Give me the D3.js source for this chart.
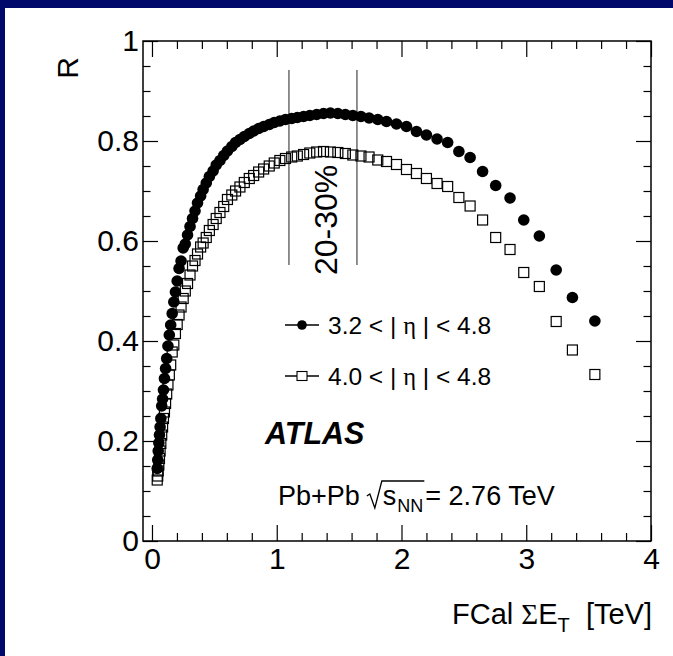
<!DOCTYPE html>
<html>
<head>
<meta charset="utf-8">
<script src="https://cdn.jsdelivr.net/npm/d3@7"></script>
<style>
  html, body { margin: 0; padding: 0; background: #fff; }
  svg { display: block; }
  text { font-family: "Liberation Sans", Arial, Helvetica, sans-serif; fill: #000; }
</style>
</head>
<body>
<svg id="chart" width="673" height="656"></svg>
<script>
// Mean FCal ΣE_T (TeV) of each 1% centrality bin, from 0-1% to 79-80%
const fcalEt = [
  3.55, 3.37, 3.24, 3.105, 2.98, 2.87, 2.755, 2.65, 2.55, 2.46,
  2.37, 2.285, 2.20, 2.12, 2.04, 1.96, 1.88, 1.81, 1.74, 1.675,
  1.61, 1.55, 1.49, 1.43, 1.375, 1.32, 1.265, 1.215, 1.165, 1.12,
  1.07, 1.025, 0.98, 0.94, 0.895, 0.855, 0.815, 0.78, 0.74, 0.705,
  0.67, 0.64, 0.605, 0.575, 0.545, 0.515, 0.49, 0.46, 0.435, 0.41,
  0.39, 0.365, 0.345, 0.325, 0.305, 0.285, 0.267, 0.25, 0.233, 0.217,
  0.202, 0.188, 0.175, 0.162, 0.15, 0.139, 0.128, 0.118, 0.109, 0.10,
  0.092, 0.085, 0.078, 0.071, 0.065, 0.06, 0.055, 0.05, 0.046, 0.042
];

// Resolution factor R for 3.2 < |η| < 4.8
const rWide = [
  0.440, 0.487, 0.542, 0.610, 0.642, 0.686, 0.711, 0.739, 0.767, 0.779,
  0.797, 0.804, 0.812, 0.819, 0.829, 0.834, 0.839, 0.843, 0.846, 0.849,
  0.851, 0.853, 0.855, 0.856, 0.855, 0.853, 0.851, 0.849, 0.847, 0.845,
  0.843, 0.840, 0.837, 0.833, 0.829, 0.825, 0.820, 0.815, 0.809, 0.803,
  0.797, 0.789, 0.780, 0.771, 0.761, 0.752, 0.740, 0.729, 0.716, 0.703,
  0.690, 0.676, 0.660, 0.645, 0.629, 0.612, 0.594, 0.586, 0.560, 0.545,
  0.520, 0.498, 0.478, 0.455, 0.432, 0.412, 0.390, 0.365, 0.345, 0.325,
  0.302, 0.284, 0.270, 0.245, 0.228, 0.212, 0.196, 0.180, 0.162, 0.145
];

// Resolution factor R for 4.0 < |η| < 4.8
const rNarrow = [
  0.333, 0.382, 0.439, 0.509, 0.537, 0.583, 0.607, 0.642, 0.670, 0.687,
  0.709, 0.715, 0.725, 0.735, 0.743, 0.753, 0.759, 0.762, 0.768, 0.770,
  0.772, 0.775, 0.777, 0.778, 0.779, 0.778, 0.776, 0.773, 0.770, 0.768,
  0.765, 0.761, 0.756, 0.750, 0.744, 0.738, 0.731, 0.725, 0.717, 0.708,
  0.700, 0.692, 0.683, 0.669, 0.657, 0.645, 0.633, 0.621, 0.607, 0.596,
  0.588, 0.574, 0.561, 0.550, 0.532, 0.515, 0.500, 0.485, 0.468, 0.452,
  0.433, 0.415, 0.392, 0.378, 0.352, 0.332, 0.312, 0.294, 0.275, 0.258,
  0.245, 0.228, 0.212, 0.195, 0.180, 0.165, 0.152, 0.140, 0.130, 0.122
];

const xMajorTicks = [0, 1, 2, 3, 4];
const xTickLabels = ["0", "1", "2", "3", "4"];
const yMajorTicks = [0, 0.2, 0.4, 0.6, 0.8, 1];
const yTickLabels = ["0", "0.2", "0.4", "0.6", "0.8", "1"];

// 30% and 20% centrality boundaries in FCal ΣE_T, and the span of the marker lines in R
const bandEdges = [1.098, 1.643];
const bandSpan = [0.552, 0.942];
const bandLabel = "20-30%";

const legendLabels = ["3.2 < | η | < 4.8", "4.0 < | η | < 4.8"];

const W = 673, H = 656;
const frame = { left: 143, right: 651, top: 41, bottom: 541 };
const navy = "#01096b";

const svg = d3.select("#chart");

// page background with the navy edge along the top and left
svg.append("rect").attr("width", W).attr("height", H).attr("fill", "#fff");
svg.append("rect").attr("x", 0).attr("y", 0).attr("width", W).attr("height", 8).attr("fill", navy);
svg.append("rect").attr("x", 0).attr("y", 0).attr("width", 5).attr("height", H).attr("fill", navy);

const x = d3.scaleLinear().domain([-0.072, 4]).range([frame.left, frame.right]);
const y = d3.scaleLinear().domain([0, 1]).range([frame.bottom, frame.top]);

const xMinor = d3.range(0, 4.0001, 0.2).filter(v => !xMajorTicks.some(t => Math.abs(t - v) < 1e-6));
const yMinor = d3.range(0, 1.0001, 0.05).filter(v => !yMajorTicks.some(t => Math.abs(t - v) < 1e-6));

function styleAxis(g) {
  g.select(".domain").remove();
  g.selectAll(".tick line").attr("stroke", "#000").attr("stroke-width", 1.2);
}

// ticks on all four sides, pointing into the frame
svg.append("g").attr("transform", `translate(0,${frame.bottom})`)
  .call(d3.axisBottom(x).tickValues(xMajorTicks).tickSize(-16).tickPadding(7)
        .tickFormat((d, i) => xTickLabels[i]))
  .call(styleAxis)
  .call(g => g.selectAll("text").attr("font-size", 30).attr("font-family", "Liberation Sans, Arial, sans-serif"));
svg.append("g").attr("transform", `translate(0,${frame.bottom})`)
  .call(d3.axisBottom(x).tickValues(xMinor).tickSize(-8).tickFormat(""))
  .call(styleAxis);
svg.append("g").attr("transform", `translate(0,${frame.top})`)
  .call(d3.axisTop(x).tickValues(xMajorTicks).tickSize(-16).tickFormat(""))
  .call(styleAxis);
svg.append("g").attr("transform", `translate(0,${frame.top})`)
  .call(d3.axisTop(x).tickValues(xMinor).tickSize(-8).tickFormat(""))
  .call(styleAxis);

svg.append("g").attr("transform", `translate(${frame.left},0)`)
  .call(d3.axisLeft(y).tickValues(yMajorTicks).tickSize(-15).tickPadding(4)
        .tickFormat((d, i) => yTickLabels[i]))
  .call(styleAxis)
  .call(g => g.selectAll("text").attr("font-size", 30).attr("font-family", "Liberation Sans, Arial, sans-serif"));
svg.append("g").attr("transform", `translate(${frame.left},0)`)
  .call(d3.axisLeft(y).tickValues(yMinor).tickSize(-7.5).tickFormat(""))
  .call(styleAxis);
svg.append("g").attr("transform", `translate(${frame.right},0)`)
  .call(d3.axisRight(y).tickValues(yMajorTicks).tickSize(-15).tickFormat(""))
  .call(styleAxis);
svg.append("g").attr("transform", `translate(${frame.right},0)`)
  .call(d3.axisRight(y).tickValues(yMinor).tickSize(-7.5).tickFormat(""))
  .call(styleAxis);

// frame
svg.append("rect")
  .attr("x", frame.left).attr("y", frame.top)
  .attr("width", frame.right - frame.left).attr("height", frame.bottom - frame.top)
  .attr("fill", "none").attr("stroke", "#000").attr("stroke-width", 1.5);

// axis titles
svg.append("text")
  .attr("transform", `translate(78,57) rotate(-90)`)
  .attr("text-anchor", "end").attr("font-size", 30)
  .text("R");

const xTitle = svg.append("text")
  .attr("x", frame.right + 1).attr("y", 624)
  .attr("text-anchor", "end").attr("font-size", 29);
xTitle.append("tspan").text("FCal ");
xTitle.append("tspan").attr("font-family", "Liberation Serif, serif").text("Σ");
xTitle.append("tspan").text("E");
xTitle.append("tspan").attr("font-size", 20).attr("dy", 8).text("T");
xTitle.append("tspan").attr("dy", -8).attr("xml:space", "preserve").text("\u00a0\u00a0[TeV]");

// 20-30% centrality boundaries
svg.append("g").selectAll("line")
  .data(bandEdges).join("line")
  .attr("x1", d => x(d)).attr("x2", d => x(d))
  .attr("y1", y(bandSpan[1])).attr("y2", y(bandSpan[0]))
  .attr("stroke", "#222").attr("stroke-width", 1);

svg.append("text")
  .attr("transform", `translate(${(x(bandEdges[0]) + x(bandEdges[1])) / 2 + 14},${y(bandSpan[0]) + 10}) rotate(-90)`)
  .attr("text-anchor", "start").attr("font-size", 32)
  .text(bandLabel);

// open squares: 4.0 < |η| < 4.8
const sq = 10;
svg.append("g").selectAll("rect")
  .data(fcalEt.map((e, i) => [e, rNarrow[i]])).join("rect")
  .attr("x", d => x(d[0]) - sq / 2).attr("y", d => y(d[1]) - sq / 2)
  .attr("width", sq).attr("height", sq)
  .attr("fill", "none").attr("stroke", "#000").attr("stroke-width", 1.2);

// filled circles: 3.2 < |η| < 4.8
svg.append("g").selectAll("circle")
  .data(fcalEt.map((e, i) => [e, rWide[i]])).join("circle")
  .attr("cx", d => x(d[0])).attr("cy", d => y(d[1]))
  .attr("r", 5.8).attr("fill", "#000");

// legend
const legendX = 285, legendRows = [325, 376];
const legend = svg.append("g");
legendRows.forEach((ly, i) => {
  legend.append("line").attr("x1", legendX).attr("x2", legendX + 34)
    .attr("y1", ly).attr("y2", ly).attr("stroke", "#000").attr("stroke-width", 1.3);
  if (i === 0) {
    legend.append("circle").attr("cx", legendX + 17).attr("cy", ly).attr("r", 4.8).attr("fill", "#000");
  } else {
    legend.append("rect").attr("x", legendX + 12).attr("y", ly - 4.5).attr("width", 10).attr("height", 9)
      .attr("fill", "#fff").attr("stroke", "#000").attr("stroke-width", 1.1);
  }
  const parts = legendLabels[i].split("η");
  const t = legend.append("text").attr("x", legendX + 43).attr("y", ly + 8.5)
    .attr("font-size", 24.5).attr("xml:space", "preserve");
  t.append("tspan").text(parts[0]);
  t.append("tspan").attr("font-family", "Liberation Serif, serif").text("η");
  t.append("tspan").text(parts[1]);
});

// experiment label
svg.append("text")
  .attr("x", 265).attr("y", 444)
  .attr("font-size", 30.5).attr("font-weight", "bold").attr("font-style", "italic")
  .text("ATLAS");

// collision system with a drawn radical over s_NN
const sysY = 505, sysX = 278, sysSize = 27;
const t1 = svg.append("text").attr("x", sysX).attr("y", sysY).attr("font-size", sysSize).text("Pb+Pb");
const w1 = t1.node().getComputedTextLength();
const radX = sysX + w1 + 7;
const sText = svg.append("text").attr("x", radX + 16).attr("y", sysY).attr("font-size", sysSize).text("s");
const ws = sText.node().getComputedTextLength();
const nn = svg.append("text").attr("x", radX + 16 + ws + 1).attr("y", sysY + 7).attr("font-size", 18).text("NN");
const wnn = nn.node().getComputedTextLength();
const radEnd = radX + 16 + ws + 1 + wnn + 1;
svg.append("path")
  .attr("d", `M${radX},${sysY - 9} L${radX + 3},${sysY - 11} L${radX + 8},${sysY + 3} L${radX + 15},${sysY - 24} L${radEnd},${sysY - 24}`)
  .attr("fill", "none").attr("stroke", "#000").attr("stroke-width", 1.3);
svg.append("text").attr("x", radEnd + 1).attr("y", sysY).attr("font-size", sysSize)
  .attr("xml:space", "preserve").text("= 2.76 TeV");
</script>
</body>
</html>
